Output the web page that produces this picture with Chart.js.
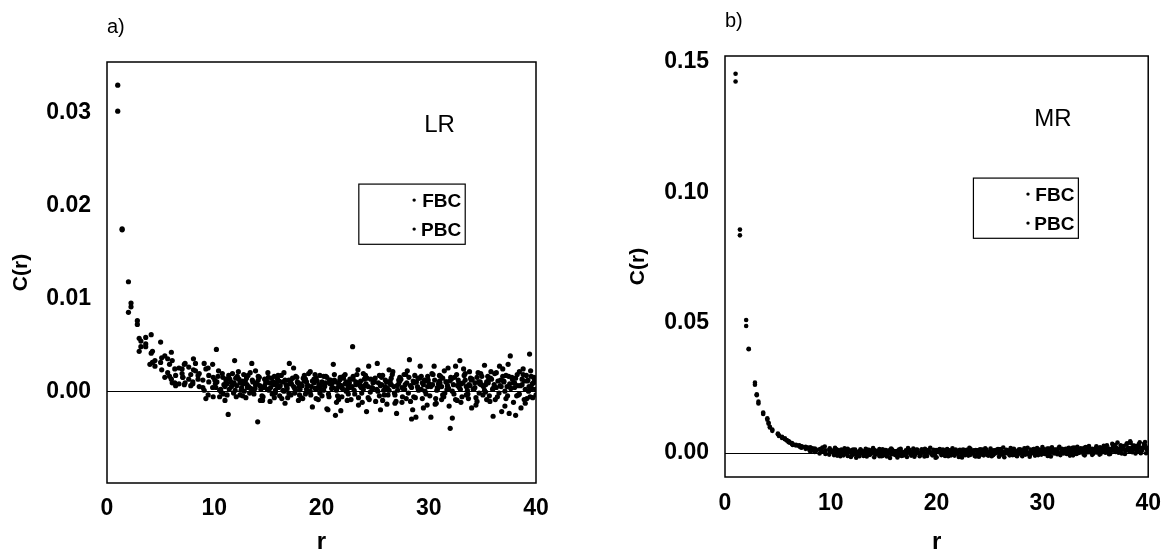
<!DOCTYPE html>
<html>
<head>
<meta charset="utf-8">
<script src="https://cdn.jsdelivr.net/npm/chart.js@4/dist/chart.umd.min.js"></script>
<style>
  html, body { margin: 0; padding: 0; background: #fff; }
  #wrap { position: relative; width: 1166px; height: 551px; }
  canvas { position: absolute; top: 0; }
  #panelA { left: 0; }
  #panelB { left: 583px; }
</style>
</head>
<body>
<div id="wrap">
  <canvas id="panelA" width="583" height="551"></canvas>
  <canvas id="panelB" width="583" height="551"></canvas>
</div>
<script>
const seriesNames = ["FBC", "PBC"]
const panelTags = ["a)", "b)"]
const regimeNames = ["LR", "MR"]
const xTicks = [0, 10, 20, 30, 40]
const yTicksLR = [0, 0.01, 0.02, 0.03]
const yTicksMR = [0, 0.05, 0.10, 0.15]

// [r, C(r)] read off panel a)
const lrFBC = [
  [1.00,.0330],[1.41,.0175],[2.00,.0118],[2.24,.0095],[2.83,.0076],[3.00,.0057],[3.16,.0048],[3.61,.0058],
  [3.61,.0051],[4.12,.0061],[4.24,.0043],[4.47,.0027],[5.00,.0053],[5.10,.0036],[5.39,.0038],[5.66,.0020],
  [5.83,.0016],[6.00,.0042],[6.08,.0033],[6.32,.0024],[6.40,.0006],[6.71,.0025],[7.00,.0019],[7.07,.0015],
  [7.21,.0029],[7.28,.0009],[7.62,.0026],[7.81,.0018],[8.00,.0008],[8.06,.0023],[8.25,.0030],[8.49,.0017],
  [8.60,.0005],[8.94,.0004],[9.06,.0030],[9.22,.0024],[9.43,-.0004],[9.49,.0017],[9.85,.0029],[9.90,-.0006],
  [10.05,.0012],[10.2,.0045],[10.5,-.0006],[10.8,.0015],[11.0,-.0010],[11.2,.0008],[11.4,.0002],[11.7,.0019],
  [11.9,.0033],[12.1,.0006],[12.4,-.0004],[12.6,.0011],[12.8,.0000],[13.0,.0014],[13.2,.0005],[13.5,.0030],
  [13.7,-.0003],[13.9,.0009],[14.1,.0016],[14.3,-.0010],[14.6,.0004],[14.8,.0012],[15.0,.0020],[15.2,-.0011],
  [15.5,.0007],[15.7,.0001],[15.9,.0013],[16.1,-.0005],[16.4,.0010],[16.6,-.0013],[16.8,.0003],[17.0,.0030],
  [17.2,.0008],[17.5,-.0002],[17.7,.0015],[17.9,.0005],[18.1,-.0007],[18.4,.0011],[18.6,.0002],[18.8,.0019],
  [19.0,-.0004],[19.3,.0009],[19.5,.0014],[19.7,-.0009],[19.9,.0006],[20.2,.0001],[20.4,.0016],[20.6,-.0020],
  [20.8,.0008],[21.1,.0029],[21.3,-.0026],[21.5,.0004],[21.7,.0012],[21.9,-.0006],[22.2,.0018],[22.4,.0002],
  [22.6,.0009],[22.9,.0048],[23.1,-.0003],[23.4,.0023],[23.6,.0006],[23.8,-.0012],[24.0,.0013],[24.2,-.0022],
  [24.4,.0027],[24.7,.0003],[24.9,.0010],[25.2,.0030],[25.4,-.0005],[25.6,.0015],[25.8,.0001],[26.1,-.0014],
  [26.3,.0023],[26.5,.0007],[26.8,-.0002],[27.0,-.0024],[27.2,.0012],[27.5,.0004],[27.7,.0018],[27.9,-.0008],
  [28.2,.0034],[28.4,-.0030],[28.6,.0009],[28.8,-.0028],[29.0,.0014],[29.3,.0002],[29.5,-.0018],[29.7,.0011],
  [29.9,.0005],[30.2,-.0028],[30.5,.0027],[30.7,-.0013],[30.9,.0008],[31.1,.0016],[31.3,-.0004],[31.6,.0010],
  [31.8,.0025],[32.0,-.0040],[32.2,-.0029],[32.5,.0027],[32.7,.0006],[32.9,.0033],[33.1,-.0006],[33.4,.0012],
  [33.6,.0001],[33.8,.0021],[34.0,-.0018],[34.3,.0009],[34.5,.0015],[34.7,-.0002],[34.9,.0007],[35.2,.0028],
  [35.4,-.0009],[35.6,.0013],[35.8,.0021],[36.0,-.0027],[36.3,.0004],[36.6,.0027],[36.8,-.0022],[37.0,.0010],
  [37.2,.0017],[37.4,.0029],[37.6,.0038],[37.9,-.0012],[38.1,-.0026],[38.3,.0006],[38.6,-.0018],[38.8,.0024],
  [39.0,-.0013],[39.2,.0011],[39.4,.0040],[39.6,.0003],[39.8,.0015],[40.0,-.0004],
  [10.1,.0008],[10.35,.0016],[10.6,.0002],[10.85,-.0003],[11.1,.0011],[11.35,.0017],[11.6,.0005],[11.85,.0009],
  [12.05,-.0006],[12.3,.0013],[12.55,.0004],[12.75,.0018],[13.05,.0007],[13.3,-.0002],[13.55,.0012],[13.8,.0003],
  [14.0,.0008],[14.2,.0015],[14.45,-.0005],[14.7,.0006],[14.9,.0010],[15.1,.0001],[15.35,.0014],[15.6,-.0007],
  [15.8,.0009],[16.0,.0004],[16.25,.0017],[16.5,.0000],[16.7,.0007],[16.95,.0012],[17.15,-.0004],[17.4,.0005],
  [17.6,.0016],[17.8,.0009],[18.0,.0002],[18.25,-.0008],[18.5,.0013],[18.7,.0006],[18.95,.0000],[19.15,.0011],
  [19.4,.0018],[19.6,.0003],[19.85,-.0002],[20.05,.0010],[20.3,.0005],[20.5,.0015],[20.7,-.0006],[20.95,.0008],
  [21.2,.0012],[21.4,.0001],[21.6,-.0009],[21.85,.0006],[22.05,.0016],[22.3,.0010],[22.5,-.0003],[22.7,.0004],
  [22.95,.0013],[23.2,.0007],[23.45,-.0007],[23.65,.0011],[23.9,.0002],[24.1,.0017],[24.35,.0005],[24.55,-.0001],
  [24.8,.0009],[25.0,.0014],[25.25,.0000],[25.5,.0006],[25.7,-.0010],[25.95,.0012],[26.15,.0003],[26.4,.0008],
  [26.6,.0018],[26.85,-.0004],[27.05,.0006],[27.3,.0011],[27.5,-.0012],[27.75,.0002],[27.95,.0009],[28.15,.0015],
  [28.4,.0004],[28.6,-.0006],[28.85,.0010],[29.05,.0001],[29.3,.0016],[29.5,.0007],[29.75,-.0003],[29.95,.0012],
  [30.2,.0005],[30.4,.0018],[30.65,-.0008],[30.85,.0003],[31.05,.0009],[31.3,.0014],[31.5,-.0002],[31.75,.0006],
  [31.95,.0011],[32.2,.0000],[32.4,.0015],[32.65,-.0010],[32.85,.0004],[33.05,.0008],[33.3,.0017],[33.5,-.0004],
  [33.75,.0007],[33.95,.0012],[34.2,.0002],[34.4,-.0007],[34.65,.0010],[34.85,.0019],[35.1,.0005],[35.3,-.0001],
  [35.55,.0009],[35.75,.0014],[36.0,.0003],[36.2,-.0009],[36.45,.0011],[36.65,.0006],[36.9,.0016],[37.1,.0000],
  [37.35,-.0005],[37.55,.0008],[37.8,.0013],[38.0,.0004],[38.25,.0018],[38.45,-.0003],[38.7,.0007],[38.9,.0011],
  [39.15,-.0008],[39.35,.0005],[39.55,.0016],[39.75,.0009],[39.95,.0002]
]
const lrPBC = [
  [1.00,.0302],[1.41,.0174],[2.00,.0085],[2.24,.0091],[2.83,.0072],[3.00,.0043],[3.16,.0054],[3.61,.0048],
  [4.00,.0029],[4.12,.0041],[4.24,.0031],[4.47,.0033],[5.00,.0031],[5.10,.0023],[5.39,.0015],[5.66,.0035],
  [5.83,.0029],[6.00,.0013],[6.08,.0009],[6.32,.0009],[6.40,.0017],[6.71,.0008],[7.00,.0024],[7.07,.0015],
  [7.21,.0007],[7.28,.0030],[7.62,.0013],[7.81,.0006],[8.00,.0010],[8.06,.0035],[8.25,.0022],[8.49,.0013],
  [8.60,.0019],[8.94,.0012],[9.06,.0001],[9.22,-.0008],[9.43,.0025],[9.49,.0010],[9.85,.0004],[9.90,.0015],
  [10.15,.0004],[10.4,.0022],[10.65,-.0001],[10.9,.0007],[11.1,.0013],[11.3,-.0025],[11.55,.0010],[11.8,-.0002],
  [12.0,.0014],[12.25,.0021],[12.5,.0001],[12.7,.0008],[12.95,-.0007],[13.15,.0017],[13.4,.0003],[13.6,.0010],
  [13.85,.0022],[14.05,-.0033],[14.25,.0006],[14.5,-.0010],[14.7,.0013],[14.95,.0002],[15.15,.0009],[15.4,-.0003],
  [15.6,.0016],[15.85,.0006],[16.05,.0011],[16.3,-.0008],[16.5,.0020],[16.75,.0005],[16.95,-.0002],[17.15,.0012],
  [17.4,.0025],[17.6,.0001],[17.85,-.0010],[18.05,.0008],[18.3,.0014],[18.5,-.0003],[18.75,.0006],[18.95,.0021],
  [19.15,-.0017],[19.4,.0003],[19.6,.0011],[19.85,.0017],[20.05,-.0005],[20.3,.0007],[20.5,-.0019],[20.75,.0012],
  [20.95,.0003],[21.2,.0018],[21.4,-.0012],[21.6,.0008],[21.8,-.0021],[22.05,.0014],[22.3,.0000],[22.5,.0006],
  [22.75,-.0009],[22.95,.0016],[23.2,.0010],[23.45,-.0015],[23.7,.0004],[23.9,.0019],[24.15,.0008],[24.35,-.0007],
  [24.6,.0013],[24.8,.0003],[25.05,-.0011],[25.3,.0009],[25.5,-.0020],[25.7,.0017],[25.95,.0005],[26.2,-.0004],
  [26.4,.0011],[26.65,.0021],[26.85,-.0013],[27.1,.0001],[27.3,.0015],[27.55,-.0006],[27.8,.0007],[28.0,.0022],
  [28.3,-.0011],[28.5,-.0020],[28.7,.0017],[28.95,.0005],[29.2,.0027],[29.4,-.0008],[29.6,.0012],[29.85,-.0015],
  [30.05,.0008],[30.3,.0019],[30.6,-.0014],[30.8,.0004],[31.0,.0011],[31.2,-.0009],[31.45,.0022],[31.7,.0002],
  [31.9,-.0016],[32.1,.0013],[32.35,-.0003],[32.6,.0018],[32.8,.0009],[33.0,-.0012],[33.25,.0024],[33.5,.0005],
  [33.7,-.0008],[33.9,.0014],[34.15,.0002],[34.4,-.0015],[34.6,.0020],[34.8,.0010],[35.05,-.0004],[35.3,.0007],
  [35.5,.0016],[35.7,-.0011],[35.95,.0002],[36.15,.0019],[36.4,-.0006],[36.7,.0012],[36.9,.0024],[37.1,-.0016],
  [37.3,.0005],[37.5,-.0024],[37.75,.0015],[38.0,.0009],[38.2,-.0005],[38.45,.0021],[38.7,.0013],[38.9,-.0009],
  [39.1,.0017],[39.3,.0000],[39.5,.0022],[39.7,-.0007],[39.9,.0010],
  [10.25,.0010],[10.5,.0001],[10.75,.0019],[11.0,.0005],[11.2,-.0004],[11.45,.0013],[11.7,.0007],[11.95,.0001],
  [12.15,.0016],[12.4,.0009],[12.65,-.0005],[12.9,.0011],[13.1,.0004],[13.35,.0020],[13.6,.0000],[13.85,.0007],
  [14.1,.0012],[14.35,.0002],[14.55,-.0006],[14.8,.0009],[15.05,.0015],[15.25,.0004],[15.5,.0010],[15.7,-.0002],
  [15.95,.0017],[16.15,.0006],[16.4,.0001],[16.6,.0012],[16.85,-.0007],[17.05,.0008],[17.3,.0014],[17.5,.0003],
  [17.75,.0010],[17.95,-.0004],[18.2,.0006],[18.4,.0017],[18.6,.0010],[18.85,-.0001],[19.05,.0005],[19.3,.0013],
  [19.5,-.0008],[19.75,.0007],[19.95,.0002],[20.2,.0016],[20.4,.0009],[20.65,-.0003],[20.85,.0012],[21.05,.0004],
  [21.3,.0010],[21.5,-.0005],[21.75,.0015],[21.95,.0003],[22.2,.0008],[22.4,-.0010],[22.65,.0013],[22.85,.0005],
  [23.05,.0001],[23.3,.0018],[23.55,.0009],[23.75,-.0002],[24.0,.0006],[24.25,.0014],[24.45,-.0009],[24.7,.0004],
  [24.9,.0011],[25.15,.0002],[25.4,.0017],[25.6,.0007],[25.85,-.0004],[26.05,.0010],[26.3,.0001],[26.5,.0014],
  [26.75,.0005],[26.95,-.0011],[27.2,.0008],[27.4,.0013],[27.65,.0002],[27.85,.0018],[28.1,-.0002],[28.3,.0006],
  [28.55,.0011],[28.75,-.0007],[29.0,.0003],[29.15,.0014],[29.4,.0009],[29.65,.0000],[29.9,.0016],[30.1,-.0005],
  [30.35,.0007],[30.55,.0012],[30.75,.0001],[31.0,.0017],[31.2,.0005],[31.4,-.0006],[31.65,.0010],[31.85,.0003],
  [32.05,.0015],[32.3,.0007],[32.5,-.0009],[32.75,.0012],[32.95,.0002],[33.2,.0009],[33.4,.0019],[33.65,-.0003],
  [33.85,.0006],[34.05,.0013],[34.3,.0004],[34.5,-.0011],[34.75,.0008],[34.95,.0016],[35.2,.0001],[35.4,.0010],
  [35.65,-.0005],[35.85,.0013],[36.1,.0007],[36.3,.0020],[36.55,-.0002],[36.75,.0005],[37.0,.0011],[37.2,-.0008],
  [37.45,.0016],[37.65,.0003],[37.9,.0009],[38.1,.0014],[38.35,-.0004],[38.55,.0006],[38.8,.0018],[39.0,.0002],
  [39.25,.0012],[39.45,-.0006],[39.65,.0008],[39.85,.0013]
]

// [r, C(r)] read off panel b)
const mrFBC = [
  [1.00,.1455],[1.41,.0857],[2.00,.0510],[2.24,.0398],[2.83,.0270],[3.00,.0222],[3.16,.0197],[3.61,.0155],
  [4.00,.0133],[4.12,.0116],[4.24,.0101],[4.47,.0090],[5.00,.0075],[5.10,.0068],[5.39,.0062],[5.66,.0056],
  [5.83,.0050],[6.00,.0046],[6.08,.0043],[6.32,.0038],[6.40,.0035],[6.71,.0032],[7.00,.0030],[7.07,.0028],
  [7.21,.0026],[7.28,.0022],[7.62,.0024],[7.81,.0019],[8.00,.0015],[8.06,.0022],[8.25,.0010],[8.49,.0017],
  [8.60,.0008],[8.94,.0014],[9.06,.0004],[9.22,.0021],[9.43,.0006],[9.49,-.0004],[9.85,.0012],[9.90,.0003],
  [10.1,.0009],[10.3,-.0008],[10.5,.0015],[10.7,.0002],[10.9,-.0012],[11.1,.0006],[11.3,.0018],[11.5,-.0003],
  [11.7,.0010],[11.9,-.0015],[12.1,.0004],[12.3,.0013],[12.5,-.0006],[12.7,.0008],[12.9,.0001],[13.1,-.0011],
  [13.3,.0016],[13.5,.0005],[13.7,-.0004],[13.9,.0011],[14.1,-.0016],[14.3,.0003],[14.5,.0009],[14.7,-.0008],
  [14.9,.0014],[15.1,.0000],[15.3,-.0013],[15.5,.0007],[15.7,.0017],[15.9,-.0005],[16.1,.0004],[16.3,-.0017],
  [16.5,.0012],[16.7,.0002],[16.9,-.0009],[17.1,.0010],[17.3,.0019],[17.5,-.0002],[17.7,.0006],[17.9,-.0014],
  [18.1,.0013],[18.3,.0001],[18.5,-.0007],[18.7,.0009],[18.9,.0016],[19.1,-.0011],[19.3,.0004],[19.5,-.0003],
  [19.7,.0012],[19.9,-.0018],[20.1,.0007],[20.3,.0015],[20.5,-.0006],[20.7,.0002],[20.9,.0011],[21.1,-.0012],
  [21.3,.0005],[21.5,.0018],[21.7,-.0004],[21.9,.0009],[22.1,-.0015],[22.3,.0003],[22.5,.0013],[22.7,-.0008],
  [22.9,.0006],[23.1,.0020],[23.3,-.0002],[23.5,.0010],[23.7,-.0013],[23.9,.0004],[24.1,.0014],[24.3,-.0006],
  [24.5,.0008],[24.7,.0001],[24.9,-.0010],[25.1,.0017],[25.3,.0005],[25.5,-.0003],[25.7,.0012],[25.9,-.0014],
  [26.1,.0007],[26.3,.0021],[26.5,-.0001],[26.7,.0010],[26.9,-.0009],[27.1,.0004],[27.3,.0016],[27.5,-.0005],
  [27.7,.0009],[27.9,.0002],[28.1,-.0012],[28.3,.0018],[28.5,.0006],[28.7,-.0004],[28.9,.0013],[29.1,.0000],
  [29.3,-.0010],[29.5,.0019],[29.7,.0008],[29.9,-.0006],[30.1,.0015],[30.3,.0003],[30.5,-.0011],[30.7,.0011],
  [30.9,.0022],[31.1,-.0002],[31.3,.0009],[31.5,.0017],[31.7,-.0008],[31.9,.0005],[32.1,.0014],[32.3,-.0004],
  [32.5,.0020],[32.7,.0007],[32.9,-.0009],[33.1,.0012],[33.3,.0024],[33.5,.0001],[33.7,.0016],[33.9,-.0006],
  [34.1,.0010],[34.3,.0021],[34.5,.0003],[34.7,-.0007],[34.9,.0015],[35.1,.0026],[35.3,.0006],[35.5,-.0003],
  [35.7,.0018],[35.9,.0011],[36.1,.0030],[36.3,-.0005],[36.5,.0013],[36.7,.0023],[36.9,.0004],[37.1,.0040],
  [37.3,.0016],[37.5,-.0002],[37.7,.0027],[37.9,.0009],[38.1,.0019],[38.3,.0045],[38.5,.0003],[38.7,.0024],
  [38.9,.0012],[39.1,.0033],[39.3,-.0001],[39.5,.0020],[39.7,.0042],[39.9,.0014],
  [10.2,.0005],[10.45,-.0004],[10.7,.0011],[10.95,.0001],[11.2,-.0009],[11.45,.0007],[11.7,.0002],[11.95,.0010],
  [12.2,-.0005],[12.45,.0004],[12.7,-.0012],[12.95,.0008],[13.2,.0000],[13.45,.0012],[13.7,-.0007],[13.95,.0003],
  [14.2,.0009],[14.45,-.0003],[14.7,.0006],[14.95,-.0010],[15.2,.0011],[15.45,.0002],[15.7,-.0005],[15.95,.0008],
  [16.2,-.0001],[16.45,.0013],[16.7,-.0011],[16.95,.0004],[17.2,.0000],[17.45,.0010],[17.7,-.0006],[17.95,.0005],
  [18.2,.0012],[18.45,-.0002],[18.7,.0003],[18.95,-.0009],[19.2,.0008],[19.45,.0001],[19.7,-.0004],[19.95,.0011],
  [20.2,.0003],[20.45,-.0008],[20.7,.0007],[20.95,-.0002],[21.2,.0010],[21.45,.0000],[21.7,-.0010],[21.95,.0006],
  [22.2,.0012],[22.45,-.0005],[22.7,.0002],[22.95,.0009],[23.2,-.0007],[23.45,.0004],[23.7,.0011],[23.95,-.0001],
  [24.2,.0006],[24.45,-.0009],[24.7,.0013],[24.95,.0003],[25.2,-.0004],[25.45,.0008],[25.7,.0001],[25.95,.0014],
  [26.2,-.0006],[26.45,.0005],[26.7,-.0001],[26.95,.0011],[27.2,.0007],[27.45,-.0008],[27.7,.0003],[27.95,.0013],
  [28.2,.0000],[28.45,.0009],[28.7,-.0005],[28.95,.0006],[29.2,.0015],[29.45,.0002],[29.7,-.0003],[29.95,.0010],
  [30.2,.0005],[30.45,.0017],[30.7,-.0001],[30.95,.0008],[31.2,.0013],[31.45,.0003],[31.7,-.0004],[31.95,.0011],
  [32.2,.0006],[32.45,.0018],[32.7,.0001],[32.95,.0009],[33.2,-.0002],[33.45,.0014],[33.7,.0005],[33.95,.0020],
  [34.2,.0002],[34.45,.0011],[34.7,.0016],[34.95,.0004],[35.2,.0012],[35.45,.0022],[35.7,.0007],[35.95,.0001],
  [36.2,.0017],[36.45,.0009],[36.7,.0026],[36.95,.0013],[37.2,.0005],[37.45,.0021],[37.7,.0015],[37.95,.0034],
  [38.2,.0008],[38.45,.0019],[38.7,.0028],[38.95,.0006],[39.2,.0022],[39.45,.0014],[39.7,.0030],[39.95,.0010]
]
const mrPBC = [
  [1.00,.1425],[1.41,.0835],[2.00,.0487],[2.24,.0400],[2.83,.0262],[3.00,.0225],[3.16,.0190],[3.61,.0150],
  [4.00,.0128],[4.12,.0112],[4.24,.0098],[4.47,.0085],[5.00,.0072],[5.10,.0065],[5.39,.0058],[5.66,.0053],
  [5.83,.0048],[6.00,.0042],[6.08,.0040],[6.32,.0035],[6.40,.0031],[6.71,.0029],[7.00,.0027],[7.07,.0024],
  [7.21,.0020],[7.28,.0025],[7.62,.0016],[7.81,.0021],[8.00,.0011],[8.06,.0006],[8.25,.0018],[8.49,.0004],
  [8.60,.0013],[8.94,-.0002],[9.06,.0016],[9.22,.0007],[9.43,.0025],[9.49,.0010],[9.85,-.0006],[9.90,.0018],
  [10.2,.0003],[10.4,.0020],[10.6,-.0010],[10.8,.0007],[11.0,.0013],[11.2,-.0005],[11.4,.0001],[11.6,.0016],
  [11.8,.0005],[12.0,-.0009],[12.2,.0011],[12.4,-.0018],[12.6,.0002],[12.8,.0014],[13.0,-.0003],[13.2,.0007],
  [13.4,-.0013],[13.6,.0012],[13.8,.0004],[14.0,.0019],[14.2,-.0007],[14.4,.0001],[14.6,.0015],[14.8,-.0012],
  [15.0,.0006],[15.2,.0010],[15.4,-.0004],[15.6,-.0019],[15.8,.0013],[16.0,.0003],[16.2,.0008],[16.4,-.0010],
  [16.6,.0016],[16.8,-.0002],[17.0,.0005],[17.2,-.0015],[17.4,.0011],[17.6,.0004],[17.8,.0017],[18.0,-.0006],
  [18.2,.0008],[18.4,-.0012],[18.6,.0014],[18.8,.0002],[19.0,-.0004],[19.2,.0010],[19.4,.0020],[19.6,-.0009],
  [19.8,.0005],[20.0,-.0016],[20.2,.0012],[20.4,.0001],[20.6,.0009],[20.8,-.0011],[21.0,.0015],[21.2,.0003],
  [21.4,-.0007],[21.6,.0008],[21.8,.0013],[22.0,-.0003],[22.2,.0006],[22.4,-.0017],[22.6,.0011],[22.8,.0002],
  [23.0,-.0010],[23.2,.0016],[23.4,.0005],[23.6,-.0005],[23.8,.0009],[24.0,-.0014],[24.2,.0012],[24.4,.0003],
  [24.6,.0018],[24.8,-.0008],[25.0,.0006],[25.2,-.0012],[25.4,.0010],[25.6,.0001],[25.8,.0015],[26.0,-.0006],
  [26.2,.0004],[26.4,-.0016],[26.6,.0012],[26.8,.0005],[27.0,.0019],[27.2,-.0008],[27.4,.0007],[27.6,-.0012],
  [27.8,.0014],[28.0,.0003],[28.2,.0010],[28.4,-.0006],[28.6,.0020],[28.8,-.0014],[29.0,.0008],[29.2,.0015],
  [29.4,.0002],[29.6,-.0008],[29.8,.0012],[30.0,.0023],[30.2,-.0004],[30.4,.0007],[30.6,.0017],[30.8,-.0013],
  [31.0,.0005],[31.2,.0012],[31.4,-.0005],[31.6,.0024],[31.8,.0009],[32.0,-.0002],[32.2,.0016],[32.4,.0004],
  [32.6,-.0010],[32.8,.0013],[33.0,.0021],[33.2,-.0004],[33.4,.0008],[33.6,.0018],[33.8,.0003],[34.0,-.0009],
  [34.2,.0014],[34.4,.0027],[34.6,.0007],[34.8,-.0003],[35.0,.0012],[35.2,.0019],[35.4,-.0006],[35.6,.0009],
  [35.8,.0028],[36.0,.0005],[36.2,.0015],[36.4,-.0004],[36.6,.0035],[36.8,.0010],[37.0,.0021],[37.2,.0001],
  [37.4,.0030],[37.6,.0013],[37.8,-.0004],[38.0,.0037],[38.2,.0018],[38.4,.0007],[38.6,.0029],[38.8,-.0002],
  [39.0,.0016],[39.2,.0041],[39.4,.0008],[39.6,.0025],[39.8,-.0001],[40.0,.0019],
  [10.35,.0012],[10.6,.0003],[10.85,-.0006],[11.1,.0009],[11.35,.0000],[11.6,-.0011],[11.85,.0006],[12.1,.0013],
  [12.35,.0001],[12.6,-.0004],[12.85,.0010],[13.1,.0004],[13.35,-.0009],[13.6,.0007],[13.85,-.0002],[14.1,.0011],
  [14.35,.0005],[14.6,-.0012],[14.85,.0003],[15.1,.0009],[15.35,-.0006],[15.6,.0012],[15.85,.0001],[16.1,-.0008],
  [16.35,.0006],[16.6,.0010],[16.85,-.0003],[17.1,.0002],[17.35,.0013],[17.6,-.0010],[17.85,.0005],[18.1,.0009],
  [18.35,-.0001],[18.6,.0004],[18.85,-.0013],[19.1,.0011],[19.35,.0006],[19.6,.0000],[19.85,-.0007],[20.1,.0009],
  [20.35,.0003],[20.6,.0013],[20.85,-.0004],[21.1,.0006],[21.35,-.0009],[21.6,.0011],[21.85,.0002],[22.1,.0008],
  [22.35,-.0006],[22.6,.0004],[22.85,.0012],[23.1,-.0001],[23.35,.0007],[23.6,-.0011],[23.85,.0010],[24.1,.0003],
  [24.35,.0013],[24.6,-.0004],[24.85,.0005],[25.1,.0000],[25.35,-.0008],[25.6,.0011],[25.85,.0006],[26.1,.0015],
  [26.35,-.0002],[26.6,.0008],[26.85,.0003],[27.1,-.0007],[27.35,.0012],[27.6,.0005],[27.85,-.0003],[28.1,.0009],
  [28.35,.0016],[28.6,.0002],[28.85,-.0006],[29.1,.0010],[29.35,.0006],[29.6,.0014],[29.85,.0001],[30.1,.0008],
  [30.35,-.0004],[30.6,.0012],[30.85,.0019],[31.1,.0004],[31.35,.0009],[31.6,-.0002],[31.85,.0016],[32.1,.0007],
  [32.35,.0012],[32.6,.0002],[32.85,.0020],[33.1,.0006],[33.35,-.0001],[33.6,.0013],[33.85,.0009],[34.1,.0023],
  [34.35,.0004],[34.6,.0015],[34.85,.0010],[35.1,.0002],[35.35,.0019],[35.6,.0012],[35.85,.0025],[36.1,.0006],
  [36.35,.0016],[36.6,.0009],[36.85,.0031],[37.1,.0014],[37.35,.0003],[37.6,.0024],[37.85,.0011],[38.1,.0020],
  [38.35,.0038],[38.6,.0013],[38.85,.0027],[39.1,.0007],[39.35,.0018],[39.6,.0035],[39.85,.0015]
]

const sans = "'Liberation Sans', Arial, sans-serif"

// box round the plot, panel tag, regime label and the small legend box
const panelDecor = {
  id: "panelDecor",
  afterDraw(chart, args, opts) {
    const { ctx, chartArea: { left, top, right, bottom } } = chart
    const w = right - left, h = bottom - top
    ctx.save()
    ctx.strokeStyle = "#000"
    ctx.fillStyle = "#000"
    ctx.lineWidth = 1.5
    ctx.strokeRect(left, top, w, h)

    ctx.textBaseline = "alphabetic"
    ctx.textAlign = "left"
    ctx.font = "20px " + sans
    ctx.fillText(opts.tag, left, top - 29)

    ctx.textAlign = "center"
    ctx.font = "24px " + sans
    ctx.fillText(opts.regime, left + 0.775 * w, top + 0.166 * h)

    const bx = left + 0.587 * w, by = top + 0.29 * h
    const bw = 0.248 * w, bh = 0.143 * h
    ctx.lineWidth = 1.2
    ctx.strokeRect(bx, by, bw, bh)
    ctx.textAlign = "right"
    ctx.font = "bold 19px " + sans
    chart.data.datasets.forEach((ds, i) => {
      const base = by + 23 + i * 29
      ctx.fillText(ds.label, bx + bw - 4, base)
      ctx.beginPath()
      ctx.arc(bx + 0.52 * bw, base - 7, 1.7, 0, Math.PI * 2)
      ctx.fill()
    })
    ctx.restore()
  }
}

function makePanel(canvasId, fbc, pbc, yTicks, yMin, yMax, pad, yAxisWidth, xAxisHeight, tickPadX, tag, regime, dotRadius) {
  const toPoints = arr => arr.map(p => ({ x: p[0], y: p[1] }))
  const datasets = [fbc, pbc].map((arr, i) => ({
    label: seriesNames[i],
    data: toPoints(arr),
    backgroundColor: "#000",
    borderWidth: 0,
    pointRadius: dotRadius,
    pointHoverRadius: dotRadius
  }))

  return new Chart(document.getElementById(canvasId), {
    type: "scatter",
    data: { datasets },
    options: {
      responsive: false,
      animation: false,
      devicePixelRatio: 1,
      layout: { padding: pad },
      plugins: {
        legend: { display: false },
        tooltip: { enabled: false },
        panelDecor: { tag, regime }
      },
      scales: {
        x: {
          type: "linear",
          min: 0,
          max: 40,
          afterBuildTicks: s => { s.ticks = xTicks.map(v => ({ value: v })) },
          afterFit: s => { s.height = xAxisHeight },
          border: { display: false },
          grid: { display: false },
          ticks: { color: "#000", padding: tickPadX, maxRotation: 0, font: { family: sans, size: 23, weight: "bold" } },
          title: { display: true, text: "r", color: "#000", padding: 0, font: { family: sans, size: 24, weight: "bold", lineHeight: 0.7 } }
        },
        y: {
          type: "linear",
          min: yMin,
          max: yMax,
          afterBuildTicks: s => { s.ticks = yTicks.map(v => ({ value: v })) },
          afterFit: s => { s.width = yAxisWidth },
          border: { display: false },
          grid: {
            drawTicks: false,
            lineWidth: 1,
            color: c => (c.tick && c.tick.value === 0) ? "#000" : "rgba(0,0,0,0)"
          },
          ticks: { color: "#000", padding: 16, font: { family: sans, size: 23, weight: "bold" }, callback: v => v.toFixed(2) },
          title: { display: true, text: "C(r)", color: "#000", padding: { top: 9, bottom: 0 }, font: { family: sans, size: 21, weight: "bold" } }
        }
      }
    },
    plugins: [panelDecor]
  })
}

makePanel("panelA", lrFBC, lrPBC, yTicksLR, -0.0099, 0.0355,
  { top: 62, right: 47, left: 0, bottom: 0 }, 107, 68, 4, panelTags[0], regimeNames[0], 2.6)
makePanel("panelB", mrFBC, mrPBC, yTicksMR, -0.0092, 0.1523,
  { top: 56, right: 17, left: 34, bottom: 0 }, 108, 74, 5, panelTags[1], regimeNames[1], 2.3)
</script>
</body>
</html>
